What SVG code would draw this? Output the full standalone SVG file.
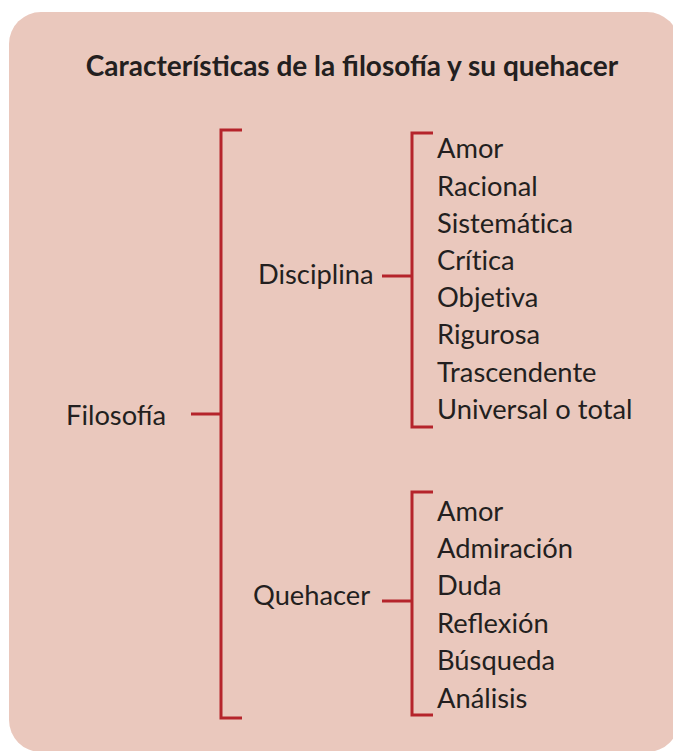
<svg xmlns="http://www.w3.org/2000/svg" width="673" height="751" viewBox="0 0 673 751">
<style>
text{font-family:Lato,"Open Sans","Liberation Sans",sans-serif;fill:#231f20;font-size:27.3px}
.title{font-weight:bold;font-size:28px}
.nolig{font-variant-ligatures:none;font-feature-settings:"liga" 0,"clig" 0,"dlig" 0}
.br{fill:none;stroke:#b5242b;stroke-width:3}
</style>
<rect x="9" y="12" width="670" height="740" rx="32" ry="32" fill="#eac8bd"/>
<text class="title" x="352" y="76" text-anchor="middle">Características de la filosofía y su quehacer</text>
<g id="connectors">
<path class="br" d="M242,130 H221 V718 H242"/>
<path class="br" d="M191,414 H221"/>
<path class="br" d="M433,133 H412 V427 H433"/>
<path class="br" d="M382,276 H412"/>
<path class="br" d="M433,492 H412 V715 H433"/>
<path class="br" d="M382,601 H412"/>
</g>
<g id="filosofia"><text x="66" y="425">Filosofía</text></g>
<g id="disciplina"><text x="258" y="284">Disciplina</text></g>
<g id="quehacer"><text x="253" y="605">Quehacer</text></g>
<g id="disciplina-items">
<text x="437" y="158">Amor</text>
<text x="437" y="196">Racional</text>
<text class="nolig" x="437" y="233">Sistemática</text>
<text class="nolig" x="437" y="270">Crítica</text>
<text class="nolig" x="437" y="307">Objetiva</text>
<text x="437" y="344">Rigurosa</text>
<text x="437" y="382">Trascendente</text>
<text x="437" y="419">Universal o total</text>
</g>
<g id="quehacer-items">
<text x="437" y="521">Amor</text>
<text x="437" y="558">Admiración</text>
<text x="437" y="595">Duda</text>
<text x="437" y="633">Reflexión</text>
<text x="437" y="670">Búsqueda</text>
<text x="437" y="708">Análisis</text>
</g>
</svg>
